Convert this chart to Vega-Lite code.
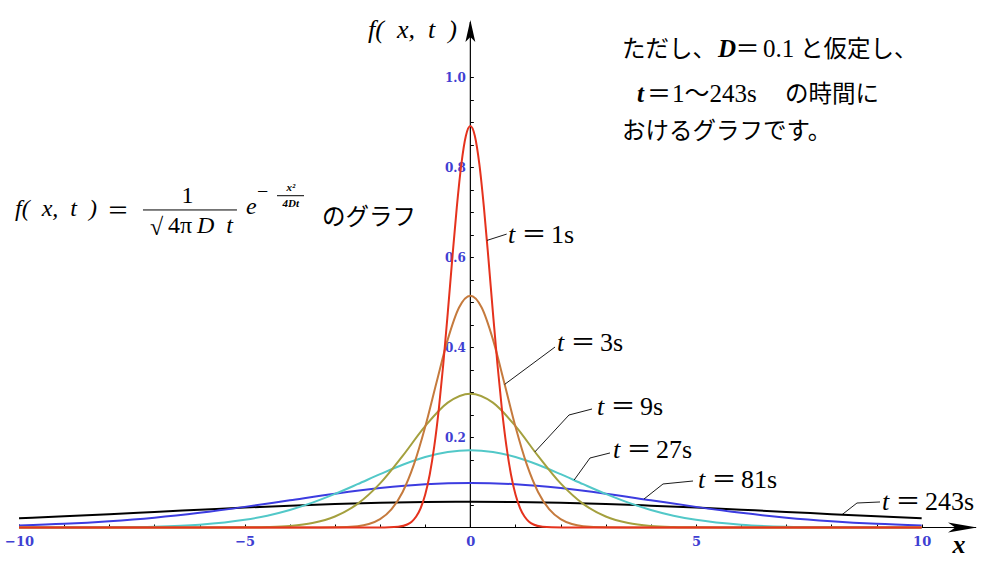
{
  "$schema": "https://vega.github.io/schema/vega-lite/v6.json",
  "width": 995,
  "height": 580,
  "padding": 0,
  "autosize": {"type": "none"},
  "background": "white",
  "config": {
    "view": {"stroke": null},
    "axis": {"labelFont": "DejaVu Serif", "labelFontWeight": "bold", "labelColor": "#3f3fd2"}
  },
  "datasets": {
    "curves": [
      {"t":"243","x":-10,"y":0.0205},{"t":"243","x":-9,"y":0.0249},{"t":"243","x":-8,"y":0.0296},{"t":"243","x":-7,"y":0.0346},{"t":"243","x":-6,"y":0.0395},{"t":"243","x":-5,"y":0.0443},{"t":"243","x":-4,"y":0.0485},{"t":"243","x":-3,"y":0.0522},{"t":"243","x":-2,"y":0.0549},{"t":"243","x":-1,"y":0.0566},{"t":"243","x":0,"y":0.0572},{"t":"243","x":1,"y":0.0566},{"t":"243","x":2,"y":0.0549},{"t":"243","x":3,"y":0.0522},{"t":"243","x":4,"y":0.0485},{"t":"243","x":5,"y":0.0443},{"t":"243","x":6,"y":0.0395},{"t":"243","x":7,"y":0.0346},{"t":"243","x":8,"y":0.0296},{"t":"243","x":9,"y":0.0249},{"t":"243","x":10,"y":0.0205},
      {"t":"81","x":-10,"y":0.0045},{"t":"81","x":-9,"y":0.0081},{"t":"81","x":-8,"y":0.0138},{"t":"81","x":-7,"y":0.0218},{"t":"81","x":-6,"y":0.0326},{"t":"81","x":-5,"y":0.0458},{"t":"81","x":-4,"y":0.0605},{"t":"81","x":-3,"y":0.0751},{"t":"81","x":-2,"y":0.0876},{"t":"81","x":-1,"y":0.0961},{"t":"81","x":0,"y":0.0991},{"t":"81","x":1,"y":0.0961},{"t":"81","x":2,"y":0.0876},{"t":"81","x":3,"y":0.0751},{"t":"81","x":4,"y":0.0605},{"t":"81","x":5,"y":0.0458},{"t":"81","x":6,"y":0.0326},{"t":"81","x":7,"y":0.0218},{"t":"81","x":8,"y":0.0138},{"t":"81","x":9,"y":0.0081},{"t":"81","x":10,"y":0.0045},
      {"t":"27","x":-10,"y":0},{"t":"27","x":-9,"y":0.0001},{"t":"27","x":-8,"y":0.0005},{"t":"27","x":-7,"y":0.0018},{"t":"27","x":-6,"y":0.0061},{"t":"27","x":-5,"y":0.017},{"t":"27","x":-4.5,"y":0.0263},{"t":"27","x":-4,"y":0.039},{"t":"27","x":-3.5,"y":0.0552},{"t":"27","x":-3,"y":0.0746},{"t":"27","x":-2.5,"y":0.0962},{"t":"27","x":-2,"y":0.1185},{"t":"27","x":-1.5,"y":0.1394},{"t":"27","x":-1,"y":0.1565},{"t":"27","x":-0.5,"y":0.1677},{"t":"27","x":0,"y":0.1717},{"t":"27","x":0.5,"y":0.1677},{"t":"27","x":1,"y":0.1565},{"t":"27","x":1.5,"y":0.1394},{"t":"27","x":2,"y":0.1185},{"t":"27","x":2.5,"y":0.0962},{"t":"27","x":3,"y":0.0746},{"t":"27","x":3.5,"y":0.0552},{"t":"27","x":4,"y":0.039},{"t":"27","x":4.5,"y":0.0263},{"t":"27","x":5,"y":0.017},{"t":"27","x":6,"y":0.0061},{"t":"27","x":7,"y":0.0018},{"t":"27","x":8,"y":0.0005},{"t":"27","x":9,"y":0.0001},{"t":"27","x":10,"y":0},
      {"t":"9","x":-10,"y":0},{"t":"9","x":-6,"y":0},{"t":"9","x":-5,"y":0.0003},{"t":"9","x":-4.5,"y":0.0011},{"t":"9","x":-4,"y":0.0035},{"t":"9","x":-3.5,"y":0.0099},{"t":"9","x":-3,"y":0.0244},{"t":"9","x":-2.5,"y":0.0524},{"t":"9","x":-2,"y":0.0979},{"t":"9","x":-1.5,"y":0.1591},{"t":"9","x":-1,"y":0.2252},{"t":"9","x":-0.5,"y":0.2774},{"t":"9","x":0,"y":0.2973},{"t":"9","x":0.5,"y":0.2774},{"t":"9","x":1,"y":0.2252},{"t":"9","x":1.5,"y":0.1591},{"t":"9","x":2,"y":0.0979},{"t":"9","x":2.5,"y":0.0524},{"t":"9","x":3,"y":0.0244},{"t":"9","x":3.5,"y":0.0099},{"t":"9","x":4,"y":0.0035},{"t":"9","x":4.5,"y":0.0011},{"t":"9","x":5,"y":0.0003},{"t":"9","x":6,"y":0},{"t":"9","x":10,"y":0},
      {"t":"3","x":-10,"y":0},{"t":"3","x":-3.5,"y":0},{"t":"3","x":-3,"y":0.0003},{"t":"3","x":-2.5,"y":0.0028},{"t":"3","x":-2.25,"y":0.0076},{"t":"3","x":-2,"y":0.0184},{"t":"3","x":-1.75,"y":0.0401},{"t":"3","x":-1.5,"y":0.079},{"t":"3","x":-1.25,"y":0.1401},{"t":"3","x":-1,"y":0.2238},{"t":"3","x":-0.75,"y":0.3223},{"t":"3","x":-0.5,"y":0.4181},{"t":"3","x":-0.25,"y":0.4889},{"t":"3","x":0,"y":0.515},{"t":"3","x":0.25,"y":0.4889},{"t":"3","x":0.5,"y":0.4181},{"t":"3","x":0.75,"y":0.3223},{"t":"3","x":1,"y":0.2238},{"t":"3","x":1.25,"y":0.1401},{"t":"3","x":1.5,"y":0.079},{"t":"3","x":1.75,"y":0.0401},{"t":"3","x":2,"y":0.0184},{"t":"3","x":2.25,"y":0.0076},{"t":"3","x":2.5,"y":0.0028},{"t":"3","x":3,"y":0.0003},{"t":"3","x":3.5,"y":0},{"t":"3","x":10,"y":0},
      {"t":"1","x":-10,"y":0},{"t":"1","x":-2.2,"y":0},{"t":"1","x":-1.8,"y":0.0003},{"t":"1","x":-1.6,"y":0.0015},{"t":"1","x":-1.4,"y":0.0066},{"t":"1","x":-1.3,"y":0.013},{"t":"1","x":-1.2,"y":0.0244},{"t":"1","x":-1.1,"y":0.0433},{"t":"1","x":-1,"y":0.0732},{"t":"1","x":-0.9,"y":0.1177},{"t":"1","x":-0.8,"y":0.1801},{"t":"1","x":-0.7,"y":0.2621},{"t":"1","x":-0.6,"y":0.3627},{"t":"1","x":-0.5,"y":0.4775},{"t":"1","x":-0.4,"y":0.598},{"t":"1","x":-0.3,"y":0.712},{"t":"1","x":-0.2,"y":0.807},{"t":"1","x":-0.1,"y":0.87},{"t":"1","x":0,"y":0.892},{"t":"1","x":0.1,"y":0.87},{"t":"1","x":0.2,"y":0.807},{"t":"1","x":0.3,"y":0.712},{"t":"1","x":0.4,"y":0.598},{"t":"1","x":0.5,"y":0.4775},{"t":"1","x":0.6,"y":0.3627},{"t":"1","x":0.7,"y":0.2621},{"t":"1","x":0.8,"y":0.1801},{"t":"1","x":0.9,"y":0.1177},{"t":"1","x":1,"y":0.0732},{"t":"1","x":1.1,"y":0.0433},{"t":"1","x":1.2,"y":0.0244},{"t":"1","x":1.3,"y":0.013},{"t":"1","x":1.4,"y":0.0066},{"t":"1","x":1.6,"y":0.0015},{"t":"1","x":1.8,"y":0.0003},{"t":"1","x":2.2,"y":0},{"t":"1","x":10,"y":0}
    ],
    "labels": [
      {"t":"1","x":0.834,"y":0.633,"v":"1s"},
      {"t":"3","x":1.92,"y":0.393,"v":"3s"},
      {"t":"9","x":2.806,"y":0.25,"v":"\u20099s"},
      {"t":"27","x":3.161,"y":0.1538,"v":"27s"},
      {"t":"81","x":5.044,"y":0.0871,"v":"81s"},
      {"t":"243","x":9.121,"y":0.0389,"v":"243s"}
    ],
    "leaders": [
      {"t":"1","o":0,"x":0.37,"y":0.638},{"t":"1","o":1,"x":0.805,"y":0.652},
      {"t":"3","o":0,"x":0.76,"y":0.318},{"t":"3","o":1,"x":1.876,"y":0.401},
      {"t":"9","o":0,"x":1.43,"y":0.168},{"t":"9","o":1,"x":2.186,"y":0.25},{"t":"9","o":2,"x":2.696,"y":0.2633},
      {"t":"27","o":0,"x":2.3,"y":0.1055},{"t":"27","o":1,"x":2.651,"y":0.1544},{"t":"27","o":2,"x":3.094,"y":0.1656},
      {"t":"81","o":0,"x":3.848,"y":0.0633},{"t":"81","o":1,"x":4.269,"y":0.0967},{"t":"81","o":2,"x":4.934,"y":0.1033},
      {"t":"243","o":0,"x":8.235,"y":0.0285},{"t":"243","o":1,"x":8.567,"y":0.0544},{"t":"243","o":2,"x":9.077,"y":0.0567}
    ]
  },
  "encoding": {
    "x": {
      "field": "x", "type": "quantitative",
      "scale": {"domain": [-10.422, 11.625], "nice": false, "zero": false},
      "axis": {
        "orient": "bottom", "offset": -52.5, "domain": false, "grid": false, "title": null,
        "values": [-10,-9,-8,-7,-6,-5,-4,-3,-2,-1,0,1,2,3,4,5,6,7,8,9,10],
        "tickSize": -3.5, "tickColor": "black", "tickWidth": 1,
        "labelExpr": "datum.value % 5 === 0 ? datum.label : ''",
        "labelFontSize": 13,
        "labelPadding": 11.5, "labelFlush": false, "labelOverlap": false
      }
    },
    "y": {
      "field": "y", "type": "quantitative",
      "scale": {"domain": [-0.1167, 1.1722], "nice": false, "zero": false},
      "axis": {
        "orient": "left", "offset": -470.35, "domain": false, "grid": false, "title": null,
        "values": [0.05,0.1,0.15,0.2,0.25,0.3,0.35,0.4,0.45,0.5,0.55,0.6,0.65,0.7,0.75,0.8,0.85,0.9,0.95,1.0],
        "tickSize": -3, "tickColor": "black", "tickWidth": 1,
        "labelExpr": "abs(datum.value*5 - round(datum.value*5)) < 0.001 ? format(datum.value, '.1f') : ''",
        "labelFontSize": 12,
        "labelPadding": 8, "labelFlush": false, "labelOverlap": false
      }
    }
  },
  "layer": [
    {
      "data": {"values": [{"x": -10, "y": 0, "x2": 11.204, "y2": 0}, {"x": 0, "y": 0, "x2": 0, "y2": 1.1233}]},
      "mark": {"type": "rule", "color": "black", "strokeWidth": 1.2},
      "encoding": {"x2": {"field": "x2"}, "y2": {"field": "y2"}}
    },
    {
      "data": {"values": [{"x": 0, "y": 1.1033}]},
      "mark": {"type": "point", "shape": "M0,-1L0.45,1L0,0.55L-0.45,1Z", "size": 484, "filled": true, "color": "black", "opacity": 1, "strokeWidth": 0}
    },
    {
      "data": {"values": [{"x": 10.905, "y": 0}]},
      "mark": {"type": "point", "shape": "M1,0L-1,-0.35L-0.5,0L-1,0.35Z", "size": 841, "filled": true, "color": "black", "opacity": 1, "strokeWidth": 0}
    },
    {
      "data": {"name": "curves"},
      "mark": {"type": "line", "interpolate": "monotone", "strokeWidth": 2},
      "encoding": {
        "color": {
          "field": "t", "type": "nominal", "legend": null,
          "scale": {"domain": ["1","3","9","27","81","243"], "range": ["#e5321d","#c57a3d","#a4a03e","#52c8c8","#3c3ce0","#000000"]}
        }
      }
    },
    {
      "data": {"name": "leaders"},
      "mark": {"type": "line", "color": "black", "strokeWidth": 0.9},
      "encoding": {"detail": {"field": "t"}, "order": {"field": "o", "type": "quantitative"}}
    },
    {
      "data": {"name": "labels"},
      "mark": {"type": "text", "text": "t", "font": "Liberation Serif", "fontStyle": "italic", "fontSize": 26, "align": "left", "baseline": "alphabetic", "color": "black"}
    },
    {
      "data": {"name": "labels"},
      "mark": {"type": "text", "text": "＝", "font": "Noto Sans CJK JP", "fontSize": 25, "align": "center", "baseline": "alphabetic", "dx": 26, "color": "black"}
    },
    {
      "data": {"name": "labels"},
      "mark": {"type": "text", "font": "Liberation Serif", "fontSize": 26, "align": "left", "baseline": "alphabetic", "dx": 43, "color": "black"},
      "encoding": {"text": {"field": "v"}}
    },
    {
      "data": {"values": [
        {"x": -10.09, "y": 0.6933, "text": "f(\u2002x,\u2002t\u2002)"},
        {"x": -4.971, "y": 0.6967, "text": "e"},
        {"x": -6.057, "y": 0.6544, "text": "D\u2002t"}
      ]},
      "mark": {"type": "text", "font": "Liberation Serif", "fontStyle": "italic", "fontSize": 24, "align": "left", "baseline": "alphabetic", "color": "black"},
      "encoding": {"text": {"field": "text"}}
    },
    {
      "data": {"values": [
        {"x": -7.098, "y": 0.65, "text": "√"},
        {"x": -6.7, "y": 0.6544, "text": "4π"}
      ]},
      "mark": {"type": "text", "font": "Liberation Serif", "fontSize": 24, "align": "left", "baseline": "alphabetic", "color": "black"},
      "encoding": {"text": {"field": "text"}}
    },
    {
      "data": {"values": [{"x": -6.268, "y": 0.7211, "text": "1"}]},
      "mark": {"type": "text", "font": "Liberation Serif", "fontSize": 24, "align": "center", "baseline": "alphabetic", "color": "black"},
      "encoding": {"text": {"field": "text"}}
    },
    {
      "data": {"values": [{"x": -7.807, "y": 0.6878, "text": "＝"}]},
      "mark": {"type": "text", "font": "Noto Sans CJK JP", "fontSize": 22, "align": "center", "baseline": "alphabetic", "color": "black"},
      "encoding": {"text": {"field": "text"}}
    },
    {
      "data": {"values": [{"x": -4.727, "y": 0.7322, "text": "−"}]},
      "mark": {"type": "text", "font": "Liberation Serif", "fontSize": 20, "align": "left", "baseline": "alphabetic", "color": "black"},
      "encoding": {"text": {"field": "text"}}
    },
    {
      "data": {"values": [
        {"x": -3.974, "y": 0.7467, "text": "x²"},
        {"x": -3.98, "y": 0.7122, "text": "4Dt"}
      ]},
      "mark": {"type": "text", "font": "Liberation Serif", "fontStyle": "italic", "fontWeight": "bold", "fontSize": 11, "align": "center", "baseline": "alphabetic", "color": "black"},
      "encoding": {"text": {"field": "text"}}
    },
    {
      "data": {"values": [
        {"x": -7.254, "y": 0.7056, "x2": -5.171, "y2": 0.7056},
        {"x": -4.284, "y": 0.7373, "x2": -3.686, "y2": 0.7373}
      ]},
      "mark": {"type": "rule", "color": "black", "strokeWidth": 1},
      "encoding": {"x2": {"field": "x2"}, "y2": {"field": "y2"}}
    },
    {
      "data": {"values": [
        {"x": -3.287, "y": 0.6727, "text": "のグラフ"},
        {"x": 3.36, "y": 1.0464, "text": "ただし、"},
        {"x": 7.305, "y": 1.0464, "text": "と仮定し、"},
        {"x": 6.972, "y": 0.9464, "text": "の時間に"},
        {"x": 3.36, "y": 0.8642, "text": "おけるグラフです。"}
      ]},
      "mark": {"type": "text", "font": "Noto Sans CJK JP", "fontSize": 23.5, "align": "left", "baseline": "alphabetic", "color": "black"},
      "encoding": {"text": {"field": "text"}}
    },
    {
      "data": {"values": [
        {"x": 6.485, "y": 1.0464, "text": "0.1"},
        {"x": 4.468, "y": 0.9464, "text": "1〜243s"}
      ]},
      "mark": {"type": "text", "font": "Liberation Serif, Noto Sans CJK JP", "fontSize": 25, "align": "left", "baseline": "alphabetic", "color": "black"},
      "encoding": {"text": {"field": "text"}}
    },
    {
      "data": {"values": [
        {"x": 5.488, "y": 1.0464, "text": "D"},
        {"x": 3.693, "y": 0.9464, "text": "t"}
      ]},
      "mark": {"type": "text", "font": "Liberation Serif", "fontStyle": "italic", "fontWeight": "bold", "fontSize": 25, "align": "left", "baseline": "alphabetic", "color": "black"},
      "encoding": {"text": {"field": "text"}}
    },
    {
      "data": {"values": [
        {"x": 6.141, "y": 1.0464, "text": "＝"},
        {"x": 4.18, "y": 0.9464, "text": "＝"}
      ]},
      "mark": {"type": "text", "font": "Noto Sans CJK JP", "fontSize": 24, "align": "center", "baseline": "alphabetic", "color": "black"},
      "encoding": {"text": {"field": "text"}}
    },
    {
      "data": {"values": [{"x": -2.268, "y": 1.0878, "text": "f(\u2002x,\u2002t\u2002)"}]},
      "mark": {"type": "text", "font": "Liberation Serif", "fontStyle": "italic", "fontSize": 26, "align": "left", "baseline": "alphabetic", "color": "black"},
      "encoding": {"text": {"field": "text"}}
    },
    {
      "data": {"values": [{"x": 10.828, "y": -0.0556, "text": "x"}]},
      "mark": {"type": "text", "font": "Liberation Serif", "fontStyle": "italic", "fontWeight": "bold", "fontSize": 26, "align": "center", "baseline": "alphabetic", "color": "black"},
      "encoding": {"text": {"field": "text"}}
    }
  ]
}
